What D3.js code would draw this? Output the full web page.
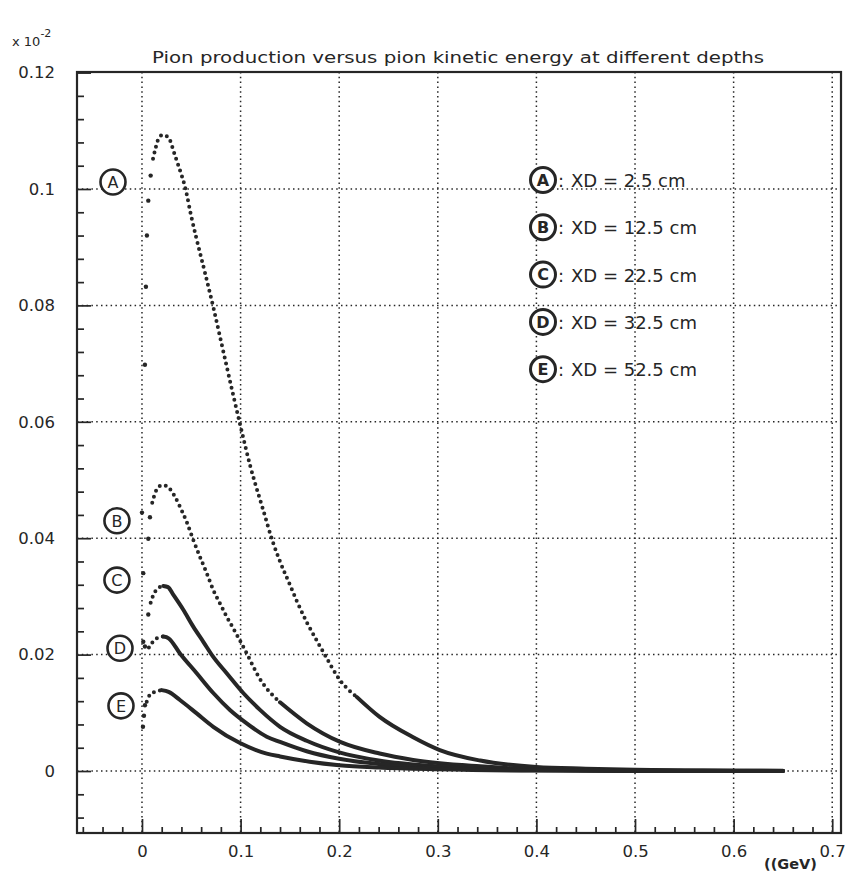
<!DOCTYPE html>
<html><head><meta charset="utf-8">
<script src="https://cdn.jsdelivr.net/npm/d3@7"></script>
<style>
html,body{margin:0;padding:0;background:#fff;}
svg{display:block;font-family:"DejaVu Sans",sans-serif;}
</style></head><body>
<svg id="chart" width="852" height="872"></svg>
<script>
// ---------- data ----------
const title = "Pion production versus pion kinetic energy at different depths";
const xTicks = [0, 0.1, 0.2, 0.3, 0.4, 0.5, 0.6, 0.7];
const xTickLabels = ["0", "0.1", "0.2", "0.3", "0.4", "0.5", "0.6", "0.7"];
const yTicks = [0, 0.02, 0.04, 0.06, 0.08, 0.1, 0.12];
const yTickLabels = ["0", "0.02", "0.04", "0.06", "0.08", "0.1", "0.12"];
const seriesNames = ["A", "B", "C", "D", "E"];
const depths = [2.5, 12.5, 22.5, 32.5, 52.5];

const seriesA = [[0.003,0.0698],[0.004,0.0832],[0.005,0.0920],[0.0064,0.0980],[0.0088,0.1023],[0.0112,0.1052],[0.0139,0.1071],[0.0175,0.1089],[0.0216,0.1093],[0.0250,0.1091],[0.0284,0.1084],[0.0317,0.1067],[0.0342,0.1054],[0.0368,0.1041],[0.0446,0.0997],[0.0497,0.0955],[0.0548,0.0918],[0.0639,0.0856],[0.0730,0.0792],[0.0822,0.0723],[0.0913,0.0655],[0.1004,0.0589],[0.1095,0.0526],[0.1230,0.0448],[0.1326,0.0394],[0.1400,0.0360],[0.1500,0.0320],[0.1570,0.0292],[0.1670,0.0256],[0.1770,0.0225],[0.1860,0.0198],[0.2000,0.0158],[0.2180,0.0127],[0.2410,0.0093],[0.2750,0.0058],[0.3020,0.0036],[0.3430,0.0018],[0.4000,0.0007],[0.4500,0.0004],[0.5000,0.0002],[0.5500,0.0001],[0.6000,0.00006],[0.6500,0.00003]];
const seriesB = [[0.000,0.0444],[0.0064,0.0399],[0.0081,0.0436],[0.0104,0.0461],[0.0132,0.0477],[0.0183,0.0490],[0.0216,0.0491],[0.0264,0.0488],[0.0335,0.0471],[0.0385,0.0454],[0.0453,0.0428],[0.0520,0.0397],[0.0588,0.0368],[0.0656,0.0340],[0.0723,0.0311],[0.0791,0.0288],[0.0859,0.0265],[0.0926,0.0245],[0.0994,0.0224],[0.1062,0.0202],[0.1197,0.0158],[0.1400,0.0118],[0.1670,0.0082],[0.2010,0.0050],[0.2410,0.0030],[0.2750,0.0019],[0.3430,0.0008],[0.4000,0.0003],[0.5000,0.0001],[0.6500,0.00002]];
const seriesC = [[0.0013,0.0340],[0.0064,0.0269],[0.0088,0.0289],[0.0122,0.0305],[0.0165,0.0314],[0.0216,0.0318],[0.0264,0.0316],[0.0317,0.0303],[0.0419,0.0277],[0.0520,0.0248],[0.0622,0.0222],[0.0723,0.0196],[0.0859,0.0168],[0.1027,0.0134],[0.1197,0.0105],[0.1400,0.0076],[0.1670,0.0052],[0.2000,0.0032],[0.2400,0.0018],[0.3000,0.0008],[0.4000,0.0002],[0.5000,0.00006],[0.6500,0.00001]];
const seriesD = [[0.0013,0.0222],[0.0030,0.0214],[0.0070,0.0212],[0.0110,0.0222],[0.0160,0.0229],[0.0216,0.0231],[0.0270,0.0228],[0.0385,0.0202],[0.0555,0.0168],[0.0723,0.0134],[0.0892,0.0105],[0.1062,0.0082],[0.1265,0.0059],[0.1400,0.0050],[0.1670,0.0034],[0.2000,0.0021],[0.2400,0.0012],[0.3000,0.0005],[0.4000,0.00012],[0.5000,0.00003],[0.6500,0.00001]];
const seriesE = [[0.0010,0.0076],[0.0020,0.0095],[0.0030,0.0113],[0.0048,0.0119],[0.0081,0.0131],[0.0132,0.0136],[0.0200,0.0139],[0.0270,0.0136],[0.0385,0.0122],[0.0555,0.0099],[0.0723,0.0076],[0.0994,0.0048],[0.1265,0.0030],[0.1400,0.0025],[0.1700,0.0016],[0.2000,0.0010],[0.2400,0.0006],[0.3000,0.0003],[0.4000,0.00007],[0.5000,0.00002],[0.6500,0.00001]];
// circled curve labels (data coordinates)
const curveLabelPos = [[-0.0294,0.1012],[-0.0254,0.0430],[-0.0254,0.0328],[-0.0223,0.0211],[-0.0213,0.0112]];

// ---------- layout / style ----------
const L = 77, R = 841, T = 72, B = 833;
const ink = "#262626";
const svg = d3.select("#chart");
svg.append("rect").attr("width", 852).attr("height", 872).attr("fill", "#fff");

const x = d3.scaleLinear().domain([-0.0659, 0.7089]).range([L, R]);
const y = d3.scaleLinear().domain([-0.01065, 0.1201]).range([B, T]);

// grid
const grid = svg.append("g");
grid.selectAll("line.vg").data(xTicks).join("line").attr("class", "vg")
  .attr("x1", d => x(d)).attr("x2", d => x(d)).attr("y1", T).attr("y2", B)
  .attr("stroke", ink).attr("stroke-width", 1.5).attr("stroke-dasharray", "1.5 3.3");
grid.selectAll("line.hg").data(yTicks.filter(v => v < 0.119)).join("line").attr("class", "hg")
  .attr("x1", L).attr("x2", R).attr("y1", d => y(d)).attr("y2", d => y(d))
  .attr("stroke", ink).attr("stroke-width", 1.5).attr("stroke-dasharray", "1.5 3.3");

// axes
function styleAxis(g) {
  g.attr("color", ink).attr("font-family", null).attr("font-size", null);
  g.select(".domain").remove();
  g.selectAll(".tick line").attr("stroke-width", 1.7);
  g.selectAll("text").attr("font-size", 16.5).attr("fill", ink);
}
const isMajor = (v, step) => Math.abs(v / step - Math.round(v / step)) < 1e-6;
const yMinor = d3.range(-0.008, 0.1201, 0.004).filter(v => !isMajor(v, 0.02));
const xMinor = d3.range(-0.06, 0.70, 0.02).filter(v => !isMajor(v, 0.1));

svg.append("g").attr("transform", `translate(${L},0)`)
  .call(d3.axisLeft(y).tickValues(yMinor).tickSize(-7).tickFormat("")).call(styleAxis);
svg.append("g").attr("transform", `translate(${L},0)`)
  .call(d3.axisLeft(y).tickValues(yTicks).tickSizeInner(-14).tickSizeOuter(0).tickPadding(22)
    .tickFormat((d, i) => yTickLabels[i])).call(styleAxis);
svg.append("g").attr("transform", `translate(0,${B})`)
  .call(d3.axisBottom(x).tickValues(xMinor).tickSize(-6).tickFormat("")).call(styleAxis);
svg.append("g").attr("transform", `translate(0,${B})`)
  .call(d3.axisBottom(x).tickValues(xTicks).tickSizeInner(-14).tickSizeOuter(0).tickPadding(12)
    .tickFormat((d, i) => xTickLabels[i])).call(styleAxis);

// frame
svg.append("rect").attr("x", L).attr("y", T).attr("width", R - L).attr("height", B - T)
  .attr("fill", "none").attr("stroke", ink).attr("stroke-width", 2.2);

// curves
const seriesList = [seriesA, seriesB, seriesC, seriesD, seriesE];
const seriesStyle = [
  {pathFrom: 0.011, dotUntil: 0.22},
  {pathFrom: 0.010, dotUntil: 0.15},
  {pathFrom: 0.008, dotUntil: 0.022},
  {pathFrom: 0.006, dotUntil: 0.022},
  {pathFrom: 0.004, dotUntil: 0.020}
];
const lineGen = d3.line().x(d => x(d[0])).y(d => y(d[1])).curve(d3.curveMonotoneX);
const curves = svg.append("g");
seriesList.forEach((data, si) => {
  const st = seriesStyle[si];
  const early = data.filter(d => d[0] < st.pathFrom);
  const pathData = data.filter(d => d[0] >= st.pathFrom);
  let k = -1;
  pathData.forEach((d, i) => { if (d[0] <= st.dotUntil) k = i; });
  const dotted = k >= 1 ? pathData.slice(0, k + 1) : [];
  const solid = pathData.slice(Math.max(k, 0));
  curves.selectAll(null).data(early).join("circle")
    .attr("cx", d => x(d[0])).attr("cy", d => y(d[1])).attr("r", 2.2).attr("fill", ink);
  if (dotted.length) {
    curves.append("path").attr("d", lineGen(dotted)).attr("fill", "none")
      .attr("stroke", ink).attr("stroke-width", 4).attr("stroke-linecap", "round")
      .attr("stroke-dasharray", "0 6.2");
  }
  curves.append("path").attr("d", lineGen(solid)).attr("fill", "none")
    .attr("stroke", ink).attr("stroke-width", 4).attr("stroke-linecap", "round");
});

// circled curve labels
const lab = svg.append("g");
curveLabelPos.forEach((p, i) => {
  lab.append("circle").attr("cx", x(p[0])).attr("cy", y(p[1])).attr("r", 12.5)
    .attr("fill", "#fff").attr("stroke", ink).attr("stroke-width", 2.6);
  lab.append("text").attr("x", x(p[0])).attr("y", y(p[1])).attr("dy", "0.36em")
    .attr("text-anchor", "middle").attr("font-size", 16).attr("fill", ink).text(seriesNames[i]);
});

// legend
const leg = svg.append("g");
seriesNames.forEach((n, i) => {
  const cy = 180 + i * 47.3;
  leg.append("circle").attr("cx", 543).attr("cy", cy).attr("r", 12.5)
    .attr("fill", "#fff").attr("stroke", ink).attr("stroke-width", 3);
  leg.append("text").attr("x", 543).attr("y", cy).attr("dy", "0.36em")
    .attr("text-anchor", "middle").attr("font-size", 16).attr("font-weight", "bold").attr("fill", ink).text(n);
  leg.append("text").attr("x", 558).attr("y", cy + 7).attr("font-size", 18).attr("fill", ink).text(":");
  leg.append("text").attr("x", 571).attr("y", cy + 7).attr("font-size", 18).attr("fill", ink)
    .text(`XD = ${depths[i]} cm`);
});

// title & annotations
svg.append("text").attr("x", 458).attr("y", 63).attr("text-anchor", "middle")
  .attr("font-size", 16).attr("fill", ink).attr("textLength", 612).attr("lengthAdjust", "spacingAndGlyphs")
  .text(title);
const sc = svg.append("text").attr("x", 12).attr("y", 46).attr("font-size", 13).attr("fill", ink);
sc.append("tspan").text("x 10");
sc.append("tspan").attr("dy", -9).attr("font-size", 11).text("-2");
svg.append("text").attr("x", 764).attr("y", 869).attr("font-size", 14.5).attr("font-weight", "bold").attr("fill", ink).text("((GeV)");
</script>
</body></html>
